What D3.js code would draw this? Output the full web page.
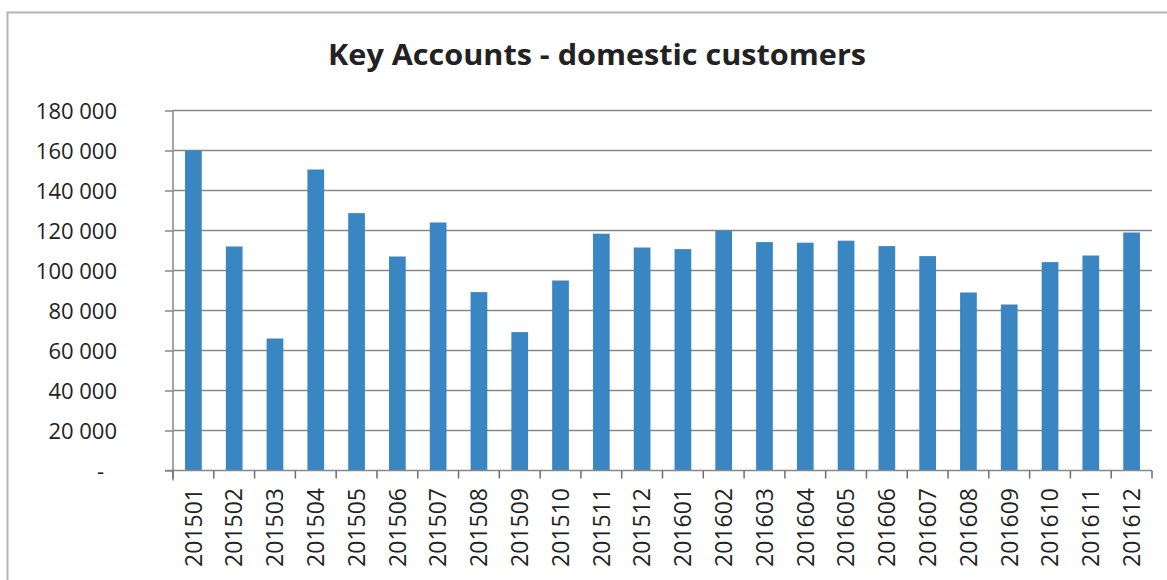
<!DOCTYPE html>
<html>
<head>
<meta charset="utf-8">
<script src="https://cdn.jsdelivr.net/npm/d3@7"></script>
<style>
  html, body { margin: 0; padding: 0; background: #fff; }
  svg { display: block; }
</style>
</head>
<body>
<svg id="chart" width="1167" height="580"></svg>
<script>
// Monthly key-account figures, domestic customers
const categories = [
  "201501", "201502", "201503", "201504", "201505", "201506",
  "201507", "201508", "201509", "201510", "201511", "201512",
  "201601", "201602", "201603", "201604", "201605", "201606",
  "201607", "201608", "201609", "201610", "201611", "201612"
];
const values = [
  160000, 112000, 66000, 150500, 128700, 107000,
  124000, 89200, 69200, 95000, 118400, 111500,
  110700, 119900, 114200, 113900, 114900, 112200,
  107200, 89000, 83000, 104200, 107500, 119000
];
const yTicks = [0, 20000, 40000, 60000, 80000, 100000, 120000, 140000, 160000, 180000];
const title = "Key Accounts - domestic customers";

const svg = d3.select("#chart");

// Plot area
const plotLeft = 173, plotRight = 1152, plotTop = 110.5, plotBottom = 470.5;

const x = d3.scaleBand()
  .domain(categories)
  .range([plotLeft, plotRight])
  .paddingInner(0.59)
  .paddingOuter(0.295);

const y = d3.scaleLinear()
  .domain([0, 180000])
  .range([plotBottom, plotTop]);

// Outer chart frame (left and top edges)
svg.append("path")
  .attr("d", "M7.5,580 V12.5 H1167")
  .attr("fill", "none")
  .attr("stroke", "#b4b4b4")
  .attr("stroke-width", 2);

// Title
svg.append("text")
  .attr("x", 597)
  .attr("y", 65)
  .attr("text-anchor", "middle")
  .attr("font-family", "'Open Sans', 'DejaVu Sans', sans-serif")
  .attr("font-weight", "bold")
  .attr("font-size", 28)
  .attr("fill", "#222")
  .attr("textLength", 538)
  .attr("lengthAdjust", "spacingAndGlyphs")
  .text(title);

// Horizontal gridlines
svg.append("g")
  .selectAll("line")
  .data(yTicks.filter(d => d > 0))
  .join("line")
  .attr("x1", plotLeft)
  .attr("x2", plotRight)
  .attr("y1", d => y(d))
  .attr("y2", d => y(d))
  .attr("stroke", "#888")
  .attr("stroke-width", 1.5);

// Y axis with space-grouped numbers and a dash for zero
const locale = d3.formatLocale({ decimal: ",", thousands: " ", grouping: [3], currency: ["", ""] });
const fmt = locale.format(",");
const yAxis = d3.axisLeft(y)
  .tickValues(yTicks)
  .tickSize(8)
  .tickPadding(48)
  .tickFormat(d => d === 0 ? "-" : fmt(d));

const gy = svg.append("g")
  .attr("transform", `translate(${plotLeft},0)`)
  .call(yAxis);
gy.select(".domain")
  .attr("d", `M0,${plotTop}V${plotBottom + 10}`)
  .attr("stroke", "#888")
  .attr("stroke-width", 1.5);
gy.selectAll(".tick line").attr("stroke", "#888").attr("stroke-width", 1.5);
gy.selectAll(".tick text")
  .attr("font-family", "'Open Sans', sans-serif")
  .attr("font-size", 22)
  .attr("fill", "#222")
  .attr("dy", "0.36em")
  .attr("dx", d => d === 0 ? -13 : 0);

// Bars
svg.append("g")
  .selectAll("rect")
  .data(categories.map((c, i) => ({ c, v: values[i] })))
  .join("rect")
  .attr("x", d => x(d.c))
  .attr("width", x.bandwidth())
  .attr("y", d => y(d.v))
  .attr("height", d => y(0) - y(d.v))
  .attr("fill", "#3a86c2");

// Category axis: baseline, tick marks between categories, rotated labels
const step = x.step();
const gap = (step - x.bandwidth()) / 2;
svg.append("line")
  .attr("x1", plotLeft - 8)
  .attr("x2", plotRight)
  .attr("y1", plotBottom)
  .attr("y2", plotBottom)
  .attr("stroke", "#888")
  .attr("stroke-width", 1.5);

const boundaries = categories.map(c => x(c) - gap)
  .concat([x(categories[categories.length - 1]) + x.bandwidth() + gap]);
svg.append("g")
  .selectAll("line")
  .data(boundaries)
  .join("line")
  .attr("x1", d => d)
  .attr("x2", d => d)
  .attr("y1", plotBottom)
  .attr("y2", plotBottom + 8)
  .attr("stroke", "#6e6e6e")
  .attr("stroke-width", 1.5);

svg.append("g")
  .selectAll("text")
  .data(categories)
  .join("text")
  .attr("transform", d => `translate(${x(d) + x.bandwidth() / 2},488) rotate(-90)`)
  .attr("text-anchor", "end")
  .attr("dy", "0.36em")
  .attr("font-family", "'Open Sans', sans-serif")
  .attr("font-size", 23)
  .attr("fill", "#222")
  .text(d => d);
</script>
</body>
</html>
